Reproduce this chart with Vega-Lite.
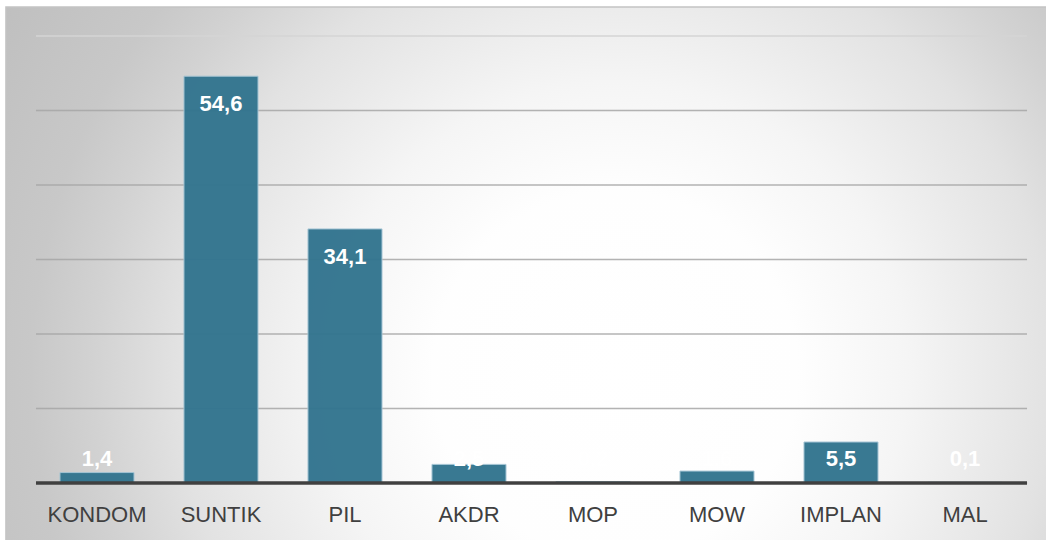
{
  "$schema": "https://vega.github.io/schema/vega-lite/v6.json",
  "width": 1040,
  "height": 533,
  "autosize": {"type": "none"},
  "padding": {"left": 6, "top": 7, "right": 0, "bottom": 0},
  "background": "#ffffff",
  "config": {
    "locale": {"number": {"decimal": ",", "thousands": ".", "grouping": [3], "currency": ["", ""]}},
    "view": {"stroke": null}
  },
  "data": {
    "values": [
      {"metode": "KONDOM", "persen": 1.4},
      {"metode": "SUNTIK", "persen": 54.6},
      {"metode": "PIL", "persen": 34.1},
      {"metode": "AKDR", "persen": 2.5},
      {"metode": "MOP", "persen": 0.2},
      {"metode": "MOW", "persen": 1.6},
      {"metode": "IMPLAN", "persen": 5.5},
      {"metode": "MAL", "persen": 0.1}
    ]
  },
  "layer": [
    {
      "data": {"values": [{"latar": 1}]},
      "mark": {
        "type": "rect",
        "clip": false,
        "stroke": "#c4c4c4",
        "strokeWidth": 1.5,
        "fill": {
          "gradient": "radial",
          "x1": 0.5615, "y1": 0.3587, "r1": 0,
          "x2": 0.5615, "y2": 0.3587, "r2": 0.673,
          "stops": [
            {"offset": 0, "color": "#ffffff"},
            {"offset": 0.25, "color": "#fefefe"},
            {"offset": 0.4, "color": "#f5f5f5"},
            {"offset": 0.6, "color": "#e2e2e2"},
            {"offset": 0.714, "color": "#d2d2d2"},
            {"offset": 0.8, "color": "#c8c8c8"},
            {"offset": 1, "color": "#bebebe"}
          ]
        }
      },
      "encoding": {
        "x": {
          "datum": "KONDOM",
          "type": "nominal",
          "bandPosition": -0.73,
          "scale": {
            "domain": ["KONDOM", "SUNTIK", "PIL", "AKDR", "MOP", "MOW", "IMPLAN", "MAL"],
            "paddingInner": 0.403,
            "paddingOuter": 0.395,
            "align": 0.551
          },
          "axis": {
            "title": null,
            "orient": "bottom",
            "offset": -57,
            "domain": false,
            "ticks": false,
            "grid": false,
            "labelPadding": 21,
            "labelFont": "Liberation Sans",
            "labelFontSize": 22,
            "labelColor": "#404040",
            "labelAngle": 0
          }
        },
        "x2": {"datum": "MAL", "bandPosition": 2.2},
        "y": {"datum": 63.89, "type": "quantitative", "axis": null},
        "y2": {"datum": -75.7}
      }
    },
    {
      "data": {"values": [{"nilai": 10}, {"nilai": 20}, {"nilai": 30}, {"nilai": 40}, {"nilai": 50}]},
      "mark": {"type": "rule", "color": "#a6a6a6", "strokeWidth": 1.5, "opacity": 0.85},
      "encoding": {
        "x": {"datum": "KONDOM", "type": "nominal", "bandPosition": -0.324},
        "x2": {"datum": "MAL", "bandPosition": 1.338},
        "y": {"field": "nilai", "type": "quantitative", "axis": null}
      }
    },
    {
      "data": {"values": [{"nilai": 60}]},
      "mark": {"type": "rule", "color": "#d4d4d4", "strokeWidth": 1.5},
      "encoding": {
        "x": {"datum": "KONDOM", "type": "nominal", "bandPosition": -0.324},
        "x2": {"datum": "MAL", "bandPosition": 1.338},
        "y": {"field": "nilai", "type": "quantitative", "axis": null}
      }
    },
    {
      "mark": {"type": "bar", "color": "#33758f", "stroke": "#a3c4d4", "strokeWidth": 1, "opacity": 0.97},
      "encoding": {
        "x": {
          "field": "metode",
          "type": "nominal",
          "sort": null,
          "scale": {
            "domain": ["KONDOM", "SUNTIK", "PIL", "AKDR", "MOP", "MOW", "IMPLAN", "MAL"],
            "paddingInner": 0.403,
            "paddingOuter": 0.395,
            "align": 0.551
          }
        },
        "y": {
          "field": "persen",
          "type": "quantitative",
          "scale": {"domain": [-7.65, 63.89], "nice": false, "zero": false},
          "axis": null
        },
        "y2": {"datum": 0}
      }
    },
    {
      "data": {"values": [{"nilai": 0}]},
      "mark": {"type": "rule", "color": "#404040", "strokeWidth": 3.5},
      "encoding": {
        "x": {"datum": "KONDOM", "type": "nominal", "bandPosition": -0.324},
        "x2": {"datum": "MAL", "bandPosition": 1.338},
        "y": {"field": "nilai", "type": "quantitative", "axis": null}
      }
    },
    {
      "transform": [{"filter": "datum.persen >= 10"}],
      "mark": {"type": "text", "color": "#ffffff", "font": "Liberation Sans", "fontSize": 22, "fontWeight": "bold", "baseline": "alphabetic", "dy": 35},
      "encoding": {
        "x": {"field": "metode", "type": "nominal", "sort": null},
        "y": {"field": "persen", "type": "quantitative", "axis": null},
        "text": {"field": "persen", "type": "quantitative", "format": ".1f"}
      }
    },
    {
      "transform": [{"filter": "datum.persen < 10"}],
      "mark": {"type": "text", "color": "#ffffff", "font": "Liberation Sans", "fontSize": 22, "fontWeight": "bold", "baseline": "alphabetic"},
      "encoding": {
        "x": {"field": "metode", "type": "nominal", "sort": null},
        "y": {"datum": 2.3, "axis": null},
        "text": {"field": "persen", "type": "quantitative", "format": ".1f"}
      }
    }
  ]
}
